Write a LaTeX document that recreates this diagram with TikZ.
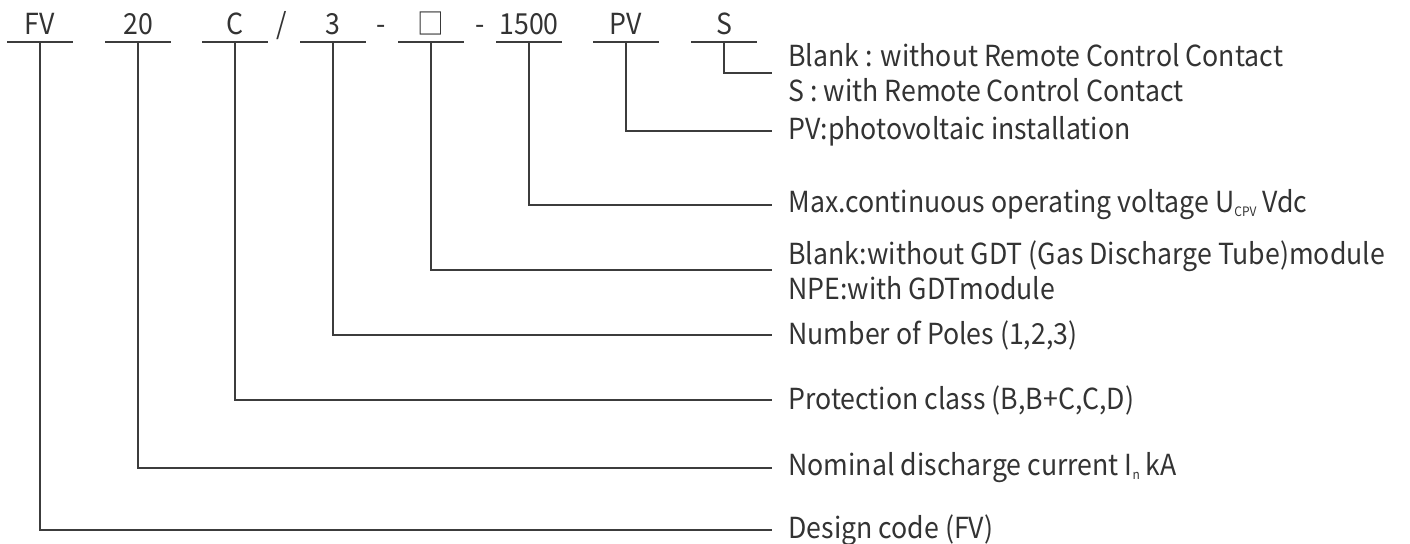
\documentclass[tikz,border=0pt]{standalone}
\usepackage{fontspec}
\setmainfont[FakeStretch=0.92]{Noto Sans CJK SC}
\usepackage{tikz}
\definecolor{textgray}{HTML}{333333}
\definecolor{linegray}{HTML}{3C3C3C}
\newcommand{\lowsub}[1]{\raisebox{-2pt}{\fontsize{6.5}{7}\selectfont #1}}

\begin{document}
\begin{tikzpicture}[x=0.5pt,y=0.5pt,
    code/.style={anchor=base,text=textgray,font=\fontsize{14.5}{17.5}\selectfont,
      text height=10pt,text depth=0pt,inner xsep=0pt,inner ysep=3.3pt,minimum width=32.5pt},
    sep/.style={anchor=base,text=textgray,font=\fontsize{14.5}{17.5}\selectfont,inner sep=0pt},
    desc/.style={anchor=west,align=left,text=textgray,font=\fontsize{14.5}{17.5}\selectfont,
      inner xsep=8pt,inner ysep=0pt},
    lead/.style={draw=linegray,line width=0.8pt}]
\useasboundingbox (0,0) rectangle (1410,544);
\foreach \n/\t/\x in {fv/FV/40,cur/20/138,cls/C/235,pol/3/333,gdt/□/431,vol/1500/529,pv/PV/626,sig/S/724}
  \node[code] (\n) at (\x,509) {\t};
\node[sep] (slash) at (282,509) {/};
\node[sep] (dash1) at (381,509) {-};
\node[sep] (dash2) at (480,509) {-};
\node[desc] (dsig) at (772,471) {Blank : without Remote Control Contact\\S : with Remote Control Contact};
\node[desc] (dpv) at (772,413) {PV:photovoltaic installation};
\node[desc] (dvol) at (772,339) {Max.continuous operating voltage U\lowsub{CPV} Vdc};
\node[desc] (dgdt) at (772,274) {Blank:without GDT (Gas Discharge Tube)module\\NPE:with GDTmodule};
\node[desc] (dpol) at (772,209) {Number of Poles (1,2,3)};
\node[desc] (dcls) at (772,144) {Protection class (B,B+C,C,D)};
\node[desc] (dcur) at (772,76) {Nominal discharge current I\lowsub{n} kA};
\node[desc] (dfv) at (772,14) {Design code (FV)};
\foreach \n in {fv,cur,cls,pol,gdt,vol,pv,sig}{
  \draw[lead] (\n.south west) -- (\n.south east);
  \draw[lead] (\n.south) |- (d\n.west);
}
\end{tikzpicture}
\end{document}
